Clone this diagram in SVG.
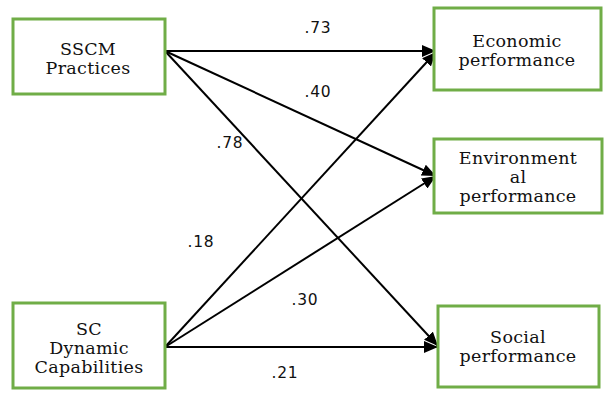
<svg xmlns="http://www.w3.org/2000/svg" width="612" height="400" viewBox="0 0 612 400">
<defs>
<marker id="ah" viewBox="0 0 14 12" refX="14" refY="6" markerWidth="14" markerHeight="12" markerUnits="userSpaceOnUse" orient="auto">
<path d="M0,0 L14,6 L0,12 z" fill="#000"/>
</marker>
<style>
.box{fill:#fff;stroke:#70AD47;stroke-width:3}
.nt{font-family:'DejaVu Serif','Liberation Serif',serif;font-size:17.5px;letter-spacing:0.3px;text-anchor:middle;fill:#111}
.lb{font-family:'DejaVu Sans',sans-serif;font-size:15.5px;letter-spacing:0.8px;text-anchor:middle;fill:#111}
.c{stroke:#000;stroke-width:2;fill:none;marker-end:url(#ah)}
</style>
</defs>
<rect width="612" height="400" fill="#fff"/>
<g id="connectors">
<line class="c" x1="165" y1="51" x2="436" y2="51"/>
<line class="c" x1="165" y1="51" x2="436" y2="176"/>
<line class="c" x1="165" y1="51" x2="438" y2="346"/>
<line class="c" x1="165" y1="347" x2="436" y2="52"/>
<line class="c" x1="165" y1="347" x2="436" y2="176"/>
<line class="c" x1="165" y1="347" x2="438" y2="347"/>
<text class="lb" x="318" y="33">.73</text>
<text class="lb" x="318" y="97">.40</text>
<text class="lb" x="230" y="148">.78</text>
<text class="lb" x="201" y="247">.18</text>
<text class="lb" x="305" y="305">.30</text>
<text class="lb" x="285" y="378">.21</text>
</g>
<g id="sscm">
<rect class="box" x="13" y="19" width="152" height="75"/>
<text class="nt" x="88" y="55">SSCM</text>
<text class="nt" x="88" y="74">Practices</text>
</g>
<g id="economic">
<rect class="box" x="434" y="8" width="167" height="82"/>
<text class="nt" x="517" y="47">Economic</text>
<text class="nt" x="517" y="66">performance</text>
</g>
<g id="environmental">
<rect class="box" x="434" y="139" width="168" height="74"/>
<text class="nt" x="518" y="164">Environment</text>
<text class="nt" x="518" y="183">al</text>
<text class="nt" x="518" y="202">performance</text>
</g>
<g id="sc">
<rect class="box" x="13" y="303" width="152" height="85"/>
<text class="nt" x="89" y="335">SC</text>
<text class="nt" x="89" y="354">Dynamic</text>
<text class="nt" x="89" y="373">Capabilities</text>
</g>
<g id="social">
<rect class="box" x="438" y="306" width="161" height="81"/>
<text class="nt" x="518" y="343">Social</text>
<text class="nt" x="518" y="362">performance</text>
</g>
</svg>
